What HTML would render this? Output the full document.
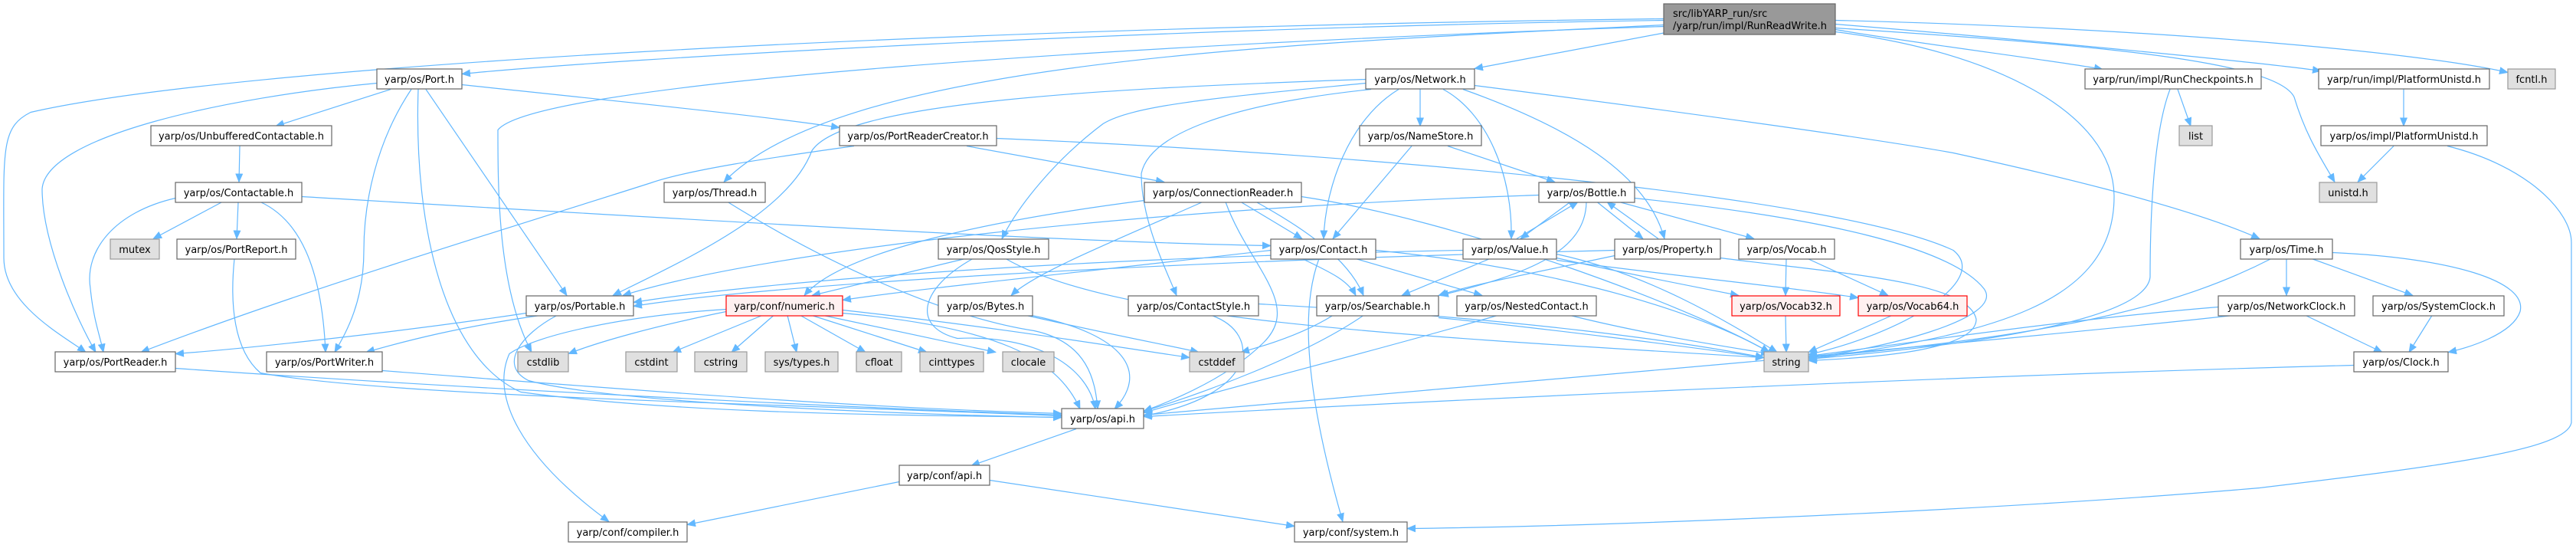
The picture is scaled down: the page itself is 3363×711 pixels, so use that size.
<!DOCTYPE html>
<html><head><meta charset="utf-8"><style>
html,body{margin:0;padding:0;background:#fff}
svg{display:block}
text{font-family:"DejaVu Sans","Liberation Sans",sans-serif;font-size:13px;fill:#000}
.e{fill:none;stroke:#63b8ff;stroke-width:1.2}
.n{fill:#fff;stroke:#666;stroke-width:1.2}
.g{fill:#e0e0e0;stroke:#999;stroke-width:1.2}
.r{fill:#fff0f0;stroke:#f00;stroke-width:1.2}
.root{fill:#999;stroke:#666;stroke-width:1.2}
</style></head><body>
<svg width="3363" height="711" viewBox="0 0 3363 711" xmlns="http://www.w3.org/2000/svg">
<defs><marker id="a" markerWidth="12" markerHeight="10" refX="11" refY="5" orient="auto" markerUnits="userSpaceOnUse"><path d="M0,0 L12,5 L0,10 z" fill="#63b8ff"/></marker></defs>
<g transform="translate(0,-3.5)" marker-end="url(#a)">
<path class="e" d="M2172,30 C1500,40 800,80 603,100"/>
<path class="e" d="M2172,28 C1200,40 300,90 40,150 C0,170 5,200 5,340 C5,400 80,440 112,463"/>
<path class="e" d="M2180,45 L1925,93"/>
<path class="e" d="M2172,36 C1700,60 1100,80 945,241"/>
<path class="e" d="M2172,38 C1500,60 700,110 650,173 C650,250 650,380 694,463"/>
<path class="e" d="M2396,42 C2500,60 2700,85 2745,94"/>
<path class="e" d="M2396,35 C2700,60 2950,85 3030,96"/>
<path class="e" d="M2396,30 C2800,40 3150,70 3274,98"/>
<path class="e" d="M2396,40 C2700,60 2970,80 2995,130 C3010,180 3030,210 3048,241"/>
<path class="e" d="M2396,45 C2600,70 2760,150 2760,260 C2760,400 2600,440 2361,472"/>
<path class="e" d="M510,120 L360,168"/>
<path class="e" d="M492,112 C300,130 60,180 55,250 C55,320 100,420 125,463"/>
<path class="e" d="M537,120 C490,190 475,270 475,330 C475,400 450,440 437,463"/>
<path class="e" d="M556,120 L740,389"/>
<path class="e" d="M546,120 C540,300 580,470 680,515 C900,545 1200,545 1386,548"/>
<path class="e" d="M603,114 C800,135 1000,155 1096,170"/>
<path class="e" d="M313,194 L312,241"/>
<path class="e" d="M290,267 L200,315"/>
<path class="e" d="M311,267 L309,315"/>
<path class="e" d="M340,267 C390,290 420,350 425,463"/>
<path class="e" d="M229,262 C150,280 110,330 118,380 C122,420 130,440 135,463"/>
<path class="e" d="M394,260 C900,290 1400,320 1659,324"/>
<path class="e" d="M306,341 C300,400 305,460 340,490 C500,520 1000,530 1386,546"/>
<path class="e" d="M229,484 C600,510 1100,535 1386,545"/>
<path class="e" d="M499,487 C800,510 1100,535 1386,543"/>
<path class="e" d="M687,412 C500,440 300,460 229,465"/>
<path class="e" d="M705,415 C600,430 530,448 478,463"/>
<path class="e" d="M727,415 C680,440 650,480 690,500 C800,530 1200,545 1386,548"/>
<path class="e" d="M1115,194 C1000,210 900,225 850,242 C700,290 400,380 184,463"/>
<path class="e" d="M1262,194 L1520,241"/>
<path class="e" d="M1301,184 C1800,205 2400,260 2550,330 C2600,370 2480,440 2361,466"/>
<path class="e" d="M950,267 C1100,360 1250,420 1350,435 C1420,450 1430,500 1433,537"/>
<path class="e" d="M1783,107 C1400,120 1100,140 1060,200 C1030,280 900,340 800,389"/>
<path class="e" d="M1826,120 C1760,160 1730,250 1728,315"/>
<path class="e" d="M1854,120 L1854,168"/>
<path class="e" d="M1884,120 C1940,150 1975,230 1973,315"/>
<path class="e" d="M1910,120 C2050,170 2150,230 2173,315"/>
<path class="e" d="M1925,115 C2200,150 2450,185 2550,203 C2650,225 2850,270 2950,315"/>
<path class="e" d="M1783,112 C1600,130 1480,140 1440,165 C1380,210 1330,270 1308,315"/>
<path class="e" d="M1790,120 C1600,140 1500,180 1490,230 C1490,290 1520,350 1536,389"/>
<path class="e" d="M1843,194 L1740,315"/>
<path class="e" d="M1890,194 L2030,241"/>
<path class="e" d="M1494,265 C1300,290 1100,330 1050,389"/>
<path class="e" d="M1570,267 C1450,320 1350,360 1320,389"/>
<path class="e" d="M1620,267 L1700,315"/>
<path class="e" d="M1640,267 C1700,300 1760,340 1780,389"/>
<path class="e" d="M1699,260 C1900,290 2200,400 2310,463"/>
<path class="e" d="M1600,267 C1630,350 1700,400 1650,450 C1600,500 1520,530 1493,540"/>
<path class="e" d="M1260,341 L1060,389"/>
<path class="e" d="M1270,341 C1200,380 1190,430 1250,445 C1350,440 1420,480 1430,537"/>
<path class="e" d="M1313,341 C1450,420 1800,440 2303,470"/>
<path class="e" d="M995,415 L878,463"/>
<path class="e" d="M1010,415 L955,463"/>
<path class="e" d="M1028,415 L1040,463"/>
<path class="e" d="M1045,415 L1130,463"/>
<path class="e" d="M1060,415 L1210,463"/>
<path class="e" d="M1075,415 L1300,463"/>
<path class="e" d="M1100,408 C1300,430 1450,455 1553,470"/>
<path class="e" d="M1100,412 C1300,430 1380,470 1410,537"/>
<path class="e" d="M948,410 C850,430 780,450 742,465"/>
<path class="e" d="M948,407 C820,415 700,440 665,465 C640,520 680,600 795,684"/>
<path class="e" d="M1340,415 C1450,440 1530,455 1565,463"/>
<path class="e" d="M1347,415 C1470,440 1500,490 1455,537"/>
<path class="e" d="M1643,400 C2000,420 2200,450 2303,470"/>
<path class="e" d="M1582,415 C1650,440 1640,520 1493,546"/>
<path class="e" d="M1770,341 L1935,389"/>
<path class="e" d="M1700,341 C1740,360 1760,370 1770,389"/>
<path class="e" d="M1796,330 C2000,350 2200,400 2310,463"/>
<path class="e" d="M1722,341 C1700,400 1700,500 1753,684"/>
<path class="e" d="M1659,330 C1400,360 1200,380 1100,395"/>
<path class="e" d="M2009,258 C1500,275 1000,330 813,389"/>
<path class="e" d="M2050,267 L1985,315"/>
<path class="e" d="M1980,315 L2060,267"/>
<path class="e" d="M2085,267 L2145,315"/>
<path class="e" d="M2165,315 L2098,267"/>
<path class="e" d="M2114,267 L2290,315"/>
<path class="e" d="M2071,267 C2070,330 2000,360 1880,389"/>
<path class="e" d="M2134,262 C2400,290 2550,330 2590,380 C2620,420 2450,460 2361,470"/>
<path class="e" d="M1945,341 L1830,389"/>
<path class="e" d="M1910,330 C1400,340 1000,370 827,398"/>
<path class="e" d="M2032,335 C2150,360 2250,420 2320,463"/>
<path class="e" d="M2032,340 C2120,360 2200,375 2270,389"/>
<path class="e" d="M2032,343 C2200,365 2350,380 2426,392"/>
<path class="e" d="M2108,337 C2000,360 1920,375 1878,389"/>
<path class="e" d="M2108,330 C1500,345 1000,375 827,403"/>
<path class="e" d="M2246,340 C2400,360 2570,370 2580,420 C2580,460 2450,470 2361,474"/>
<path class="e" d="M2332,341 L2331,389"/>
<path class="e" d="M2360,341 L2465,389"/>
<path class="e" d="M2331,415 L2332,463"/>
<path class="e" d="M2470,415 L2361,463"/>
<path class="e" d="M1780,415 C1700,470 1560,520 1493,540"/>
<path class="e" d="M1740,415 C1700,440 1650,455 1620,463"/>
<path class="e" d="M1878,418 C2000,430 2200,455 2303,470"/>
<path class="e" d="M2050,415 C2150,440 2250,455 2310,465"/>
<path class="e" d="M1955,415 C1800,460 1600,510 1493,542"/>
<path class="e" d="M1405,563 L1268,611"/>
<path class="e" d="M1174,632 L897,688"/>
<path class="e" d="M1292,630 L1690,690"/>
<path class="e" d="M2985,341 L2985,389"/>
<path class="e" d="M3018,341 L3150,389"/>
<path class="e" d="M3045,333 C3200,340 3300,370 3290,410 C3280,440 3220,458 3196,463"/>
<path class="e" d="M2965,341 C2850,400 2700,440 2361,470"/>
<path class="e" d="M3010,415 L3110,463"/>
<path class="e" d="M2896,404 C2700,420 2500,450 2361,468"/>
<path class="e" d="M2915,415 C2600,450 2000,500 1493,545"/>
<path class="e" d="M3175,415 L3145,463"/>
<path class="e" d="M3073,480 C2500,495 1800,530 1493,547"/>
<path class="e" d="M2843,120 L2860,168"/>
<path class="e" d="M2833,120 C2810,180 2807,300 2807,365 C2800,430 2500,460 2361,472"/>
<path class="e" d="M3138,120 L3138,168"/>
<path class="e" d="M3125,194 L3078,241"/>
<path class="e" d="M3195,194 C3300,220 3357,280 3357,320 C3357,450 3357,530 3357,555 C3350,590 3200,610 2950,640 C2600,670 2100,690 1837,693"/>
</g>
<g text-anchor="middle">
<rect class="root" x="2172" y="5" width="224" height="40"/>
<text x="2184" y="22" text-anchor="start">src/libYARP_run/src</text>
<text x="2184" y="38" text-anchor="start">/yarp/run/impl/RunReadWrite.h</text>

<rect class="n" x="492" y="90" width="111" height="26"/><text x="547.5" y="108">yarp/os/Port.h</text>
<rect class="n" x="1783" y="90" width="142" height="26"/><text x="1854" y="108">yarp/os/Network.h</text>
<rect class="n" x="2722" y="90" width="230" height="26"/><text x="2837" y="108">yarp/run/impl/RunCheckpoints.h</text>
<rect class="n" x="3027" y="90" width="223" height="26"/><text x="3138.5" y="108">yarp/run/impl/PlatformUnistd.h</text>
<rect class="g" x="3274" y="90" width="62" height="26"/><text x="3305" y="108">fcntl.h</text>

<rect class="n" x="197" y="164" width="236" height="26"/><text x="315" y="182">yarp/os/UnbufferedContactable.h</text>
<rect class="n" x="1096" y="164" width="205" height="26"/><text x="1198.5" y="182">yarp/os/PortReaderCreator.h</text>
<rect class="n" x="1775" y="164" width="159" height="26"/><text x="1854.5" y="182">yarp/os/NameStore.h</text>
<rect class="g" x="2845" y="164" width="43" height="26"/><text x="2866.5" y="182">list</text>
<rect class="n" x="3030" y="164" width="217" height="26"/><text x="3138.5" y="182">yarp/os/impl/PlatformUnistd.h</text>

<rect class="n" x="229" y="238" width="165" height="26"/><text x="311.5" y="256">yarp/os/Contactable.h</text>
<rect class="n" x="867" y="238" width="132" height="26"/><text x="933" y="256">yarp/os/Thread.h</text>
<rect class="n" x="1494" y="238" width="205" height="26"/><text x="1596.5" y="256">yarp/os/ConnectionReader.h</text>
<rect class="n" x="2009" y="238" width="125" height="26"/><text x="2071.5" y="256">yarp/os/Bottle.h</text>
<rect class="g" x="3028" y="238" width="75" height="26"/><text x="3065.5" y="256">unistd.h</text>

<rect class="g" x="144" y="312" width="64" height="26"/><text x="176" y="330">mutex</text>
<rect class="n" x="231" y="312" width="155" height="26"/><text x="308.5" y="330">yarp/os/PortReport.h</text>
<rect class="n" x="1225" y="312" width="144" height="26"/><text x="1297" y="330">yarp/os/QosStyle.h</text>
<rect class="n" x="1659" y="312" width="137" height="26"/><text x="1727.5" y="330">yarp/os/Contact.h</text>
<rect class="n" x="1910" y="312" width="122" height="26"/><text x="1971" y="330">yarp/os/Value.h</text>
<rect class="n" x="2108" y="312" width="138" height="26"/><text x="2177" y="330">yarp/os/Property.h</text>
<rect class="n" x="2270" y="312" width="125" height="26"/><text x="2332.5" y="330">yarp/os/Vocab.h</text>
<rect class="n" x="2925" y="312" width="120" height="26"/><text x="2985" y="330">yarp/os/Time.h</text>

<rect class="n" x="687" y="386" width="140" height="26"/><text x="757" y="404">yarp/os/Portable.h</text>
<rect class="r" x="948" y="386" width="152" height="26"/><text x="1024" y="404">yarp/conf/numeric.h</text>
<rect class="n" x="1225" y="386" width="123" height="26"/><text x="1286.5" y="404">yarp/os/Bytes.h</text>
<rect class="n" x="1473" y="386" width="170" height="26"/><text x="1558" y="404">yarp/os/ContactStyle.h</text>
<rect class="n" x="1719" y="386" width="159" height="26"/><text x="1798.5" y="404">yarp/os/Searchable.h</text>
<rect class="n" x="1902" y="386" width="182" height="26"/><text x="1993" y="404">yarp/os/NestedContact.h</text>
<rect class="r" x="2261" y="386" width="141" height="26"/><text x="2331.5" y="404">yarp/os/Vocab32.h</text>
<rect class="r" x="2426" y="386" width="142" height="26"/><text x="2497" y="404">yarp/os/Vocab64.h</text>
<rect class="n" x="2896" y="386" width="178" height="26"/><text x="2985" y="404">yarp/os/NetworkClock.h</text>
<rect class="n" x="3098" y="386" width="171" height="26"/><text x="3183.5" y="404">yarp/os/SystemClock.h</text>

<rect class="n" x="72" y="459" width="157" height="26"/><text x="150.5" y="477">yarp/os/PortReader.h</text>
<rect class="n" x="348" y="459" width="151" height="26"/><text x="423.5" y="477">yarp/os/PortWriter.h</text>
<rect class="g" x="676" y="459" width="66" height="26"/><text x="709" y="477">cstdlib</text>
<rect class="g" x="817" y="459" width="67" height="26"/><text x="850.5" y="477">cstdint</text>
<rect class="g" x="907" y="459" width="68" height="26"/><text x="941" y="477">cstring</text>
<rect class="g" x="999" y="459" width="95" height="26"/><text x="1046.5" y="477">sys/types.h</text>
<rect class="g" x="1118" y="459" width="59" height="26"/><text x="1147.5" y="477">cfloat</text>
<rect class="g" x="1201" y="459" width="83" height="26"/><text x="1242.5" y="477">cinttypes</text>
<rect class="g" x="1309" y="459" width="67" height="26"/><text x="1342.5" y="477">clocale</text>
<rect class="g" x="1553" y="459" width="71" height="26"/><text x="1588.5" y="477">cstddef</text>
<rect class="g" x="2303" y="459" width="58" height="26"/><text x="2332" y="477">string</text>
<rect class="n" x="3073" y="459" width="123" height="26"/><text x="3134.5" y="477">yarp/os/Clock.h</text>

<rect class="n" x="1386" y="533" width="107" height="26"/><text x="1439.5" y="551">yarp/os/api.h</text>
<rect class="n" x="1174" y="607" width="118" height="26"/><text x="1233" y="625">yarp/conf/api.h</text>
<rect class="n" x="742" y="681" width="155" height="26"/><text x="819.5" y="699">yarp/conf/compiler.h</text>
<rect class="n" x="1690" y="681" width="147" height="26"/><text x="1763.5" y="699">yarp/conf/system.h</text>
</g>
</svg>
</body></html>
